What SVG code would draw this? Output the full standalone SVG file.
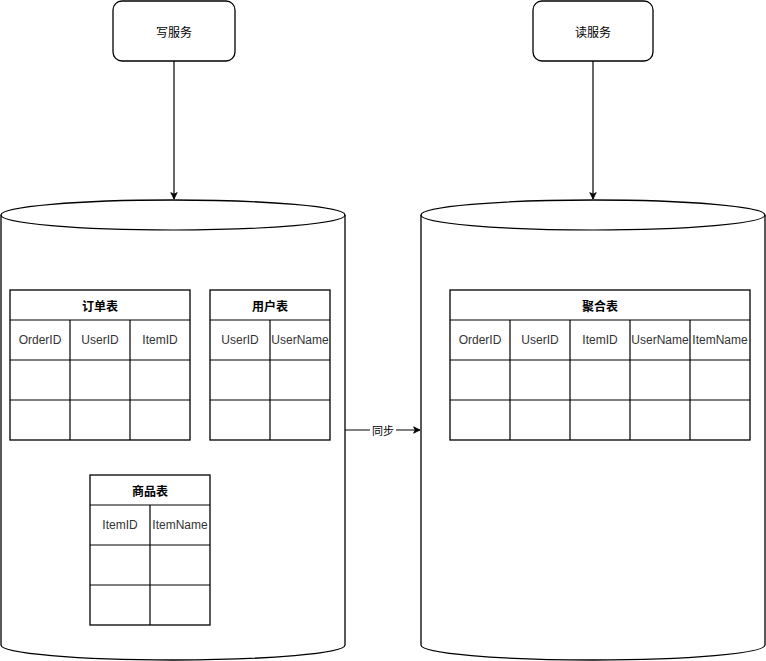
<svg xmlns="http://www.w3.org/2000/svg" width="766" height="661" viewBox="0 0 766 661">
<style>
.shape{fill:#fff;stroke:#000;stroke-width:1.3}
.line{fill:none;stroke:#000;stroke-width:1.2}
.hd{font-family:"Noto Sans CJK SC","Liberation Sans",sans-serif;font-size:12px;font-weight:bold;text-anchor:middle;dominant-baseline:central;fill:#000}
.fd{font-family:"Liberation Sans",Arial,sans-serif;font-size:12px;text-anchor:middle;dominant-baseline:central;fill:#333}
.sv{font-family:"Noto Sans CJK SC",sans-serif;font-size:12px;text-anchor:middle;dominant-baseline:central;fill:#000}
.conn{fill:none;stroke:#000;stroke-width:1.2}
</style>
<defs>
<marker id="arr" viewBox="0 0 10 10" refX="9" refY="5" markerWidth="8" markerHeight="8" orient="auto" markerUnits="userSpaceOnUse">
<path d="M1,1 L9,5 L1,9 L3,5 Z" fill="#000" stroke="#000" stroke-width="1"/>
</marker>
</defs>
<rect width="766" height="661" fill="#fff"/>

<g id="write-service">
<rect class="shape" x="113" y="1" width="122" height="60" rx="9"/>
<text class="sv" x="174" y="31">写服务</text>
</g>
<g id="read-service">
<rect class="shape" x="533" y="1" width="120" height="60" rx="9"/>
<text class="sv" x="593" y="31">读服务</text>
</g>

<g id="write-db">
<path class="shape" d="M1,215 A172,15 0 0 1 345,215 L345,645 A172,15 0 0 1 1,645 Z"/>
<path class="line" d="M1,215 A172,15 0 0 0 345,215"/>
</g>
<g id="read-db">
<path class="shape" d="M421,215 A172,15 0 0 1 765,215 L765,645 A172,15 0 0 1 421,645 Z"/>
<path class="line" d="M421,215 A172,15 0 0 0 765,215"/>
</g>

<g id="order-table">
<rect class="shape" x="10" y="290" width="180" height="150"/>
<path class="line" d="M10,320 H190 M10,360 H190 M10,400 H190 M70,320 V440 M130,320 V440"/>
<text class="hd" x="100" y="305">订单表</text>
<text class="fd" x="40" y="340">OrderID</text>
<text class="fd" x="100" y="340">UserID</text>
<text class="fd" x="160" y="340">ItemID</text>
</g>

<g id="user-table">
<rect class="shape" x="210" y="290" width="120" height="150"/>
<path class="line" d="M210,320 H330 M210,360 H330 M210,400 H330 M270,320 V440"/>
<text class="hd" x="270" y="305">用户表</text>
<text class="fd" x="240" y="340">UserID</text>
<text class="fd" x="300" y="340">UserName</text>
</g>

<g id="item-table">
<rect class="shape" x="90" y="475" width="120" height="150"/>
<path class="line" d="M90,505 H210 M90,545 H210 M90,585 H210 M150,505 V625"/>
<text class="hd" x="150" y="490">商品表</text>
<text class="fd" x="120" y="525">ItemID</text>
<text class="fd" x="180" y="525">ItemName</text>
</g>

<g id="agg-table">
<rect class="shape" x="450" y="290" width="300" height="150"/>
<path class="line" d="M450,320 H750 M450,360 H750 M450,400 H750 M510,320 V440 M570,320 V440 M630,320 V440 M690,320 V440"/>
<text class="hd" x="600" y="305">聚合表</text>
<text class="fd" x="480" y="340">OrderID</text>
<text class="fd" x="540" y="340">UserID</text>
<text class="fd" x="600" y="340">ItemID</text>
<text class="fd" x="660" y="340">UserName</text>
<text class="fd" x="720" y="340">ItemName</text>
</g>

<g id="connectors">
<line class="conn" x1="174" y1="61" x2="174" y2="199" marker-end="url(#arr)"/>
<line class="conn" x1="593" y1="61" x2="593" y2="199" marker-end="url(#arr)"/>
<line class="conn" x1="345" y1="430" x2="420" y2="430" marker-end="url(#arr)"/>
<rect x="370" y="423" width="26" height="14" fill="#fff"/>
<text class="sv" x="383" y="430" style="font-size:11px">同步</text>
</g>
</svg>
